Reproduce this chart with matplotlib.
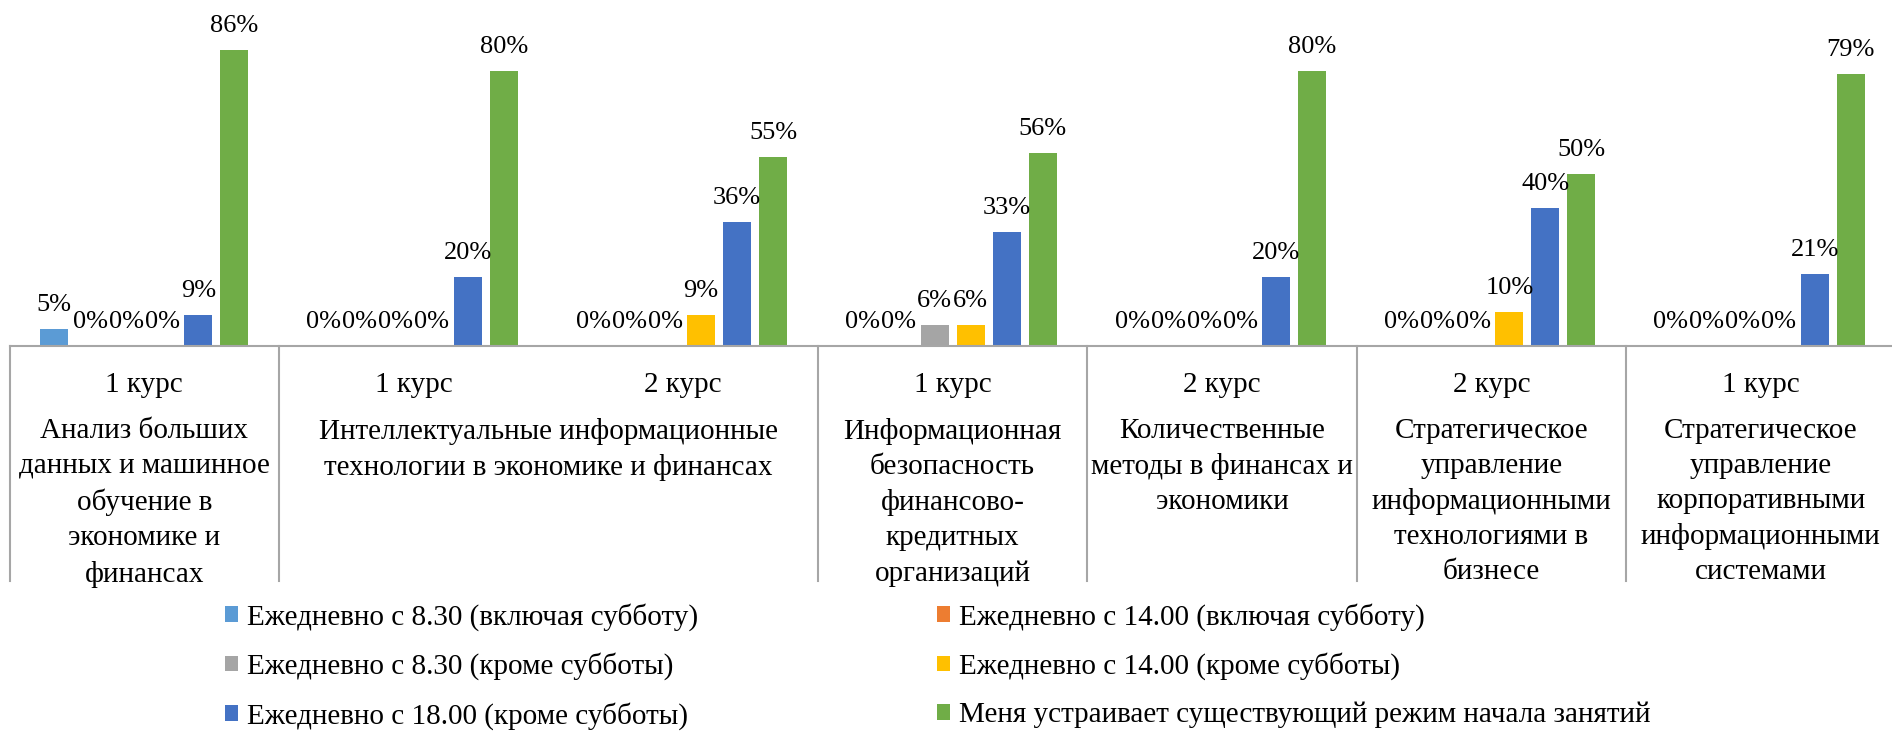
import numpy as np
import matplotlib
matplotlib.use('Agg')
import matplotlib.pyplot as plt
from matplotlib.patches import Patch

# categories: course + program
courses = ['1 курс', '1 курс', '2 курс', '1 курс', '2 курс', '2 курс', '1 курс']
programs = [
    'Анализ больших\nданных и машинное\nобучение в\nэкономике и\nфинансах',
    'Интеллектуальные информационные\nтехнологии в экономике и финансах',
    'Информационная\nбезопасность\nфинансово-\nкредитных\nорганизаций',
    'Количественные\nметоды в финансах и\nэкономики',
    'Стратегическое\nуправление\nинформационными\nтехнологиями в\nбизнесе',
    'Стратегическое\nуправление\nкорпоративными\nинформационными\nсистемами',
]
# how many course groups each program spans
program_span = [1, 2, 1, 1, 1, 1]

series_names = [
    'Ежедневно с 8.30 (включая субботу)',
    'Ежедневно с 14.00 (включая субботу)',
    'Ежедневно с 8.30 (кроме субботы)',
    'Ежедневно с 14.00 (кроме субботы)',
    'Ежедневно с 18.00 (кроме субботы)',
    'Меня устраивает существующий режим начала занятий',
]
s_830_sat = [5, 0, 0, 0, 0, 0, 0]
s_1400_sat = [0, 0, 0, 0, 0, 0, 0]
s_830 = [0, 0, 0, 6, 0, 0, 0]
s_1400 = [0, 0, 9, 6, 0, 10, 0]
s_1800 = [9, 20, 36, 33, 20, 40, 21]
s_current = [86, 80, 55, 56, 80, 50, 79]
values = [s_830_sat, s_1400_sat, s_830, s_1400, s_1800, s_current]

colors = ['#5B9BD5', '#ED7D31', '#A5A5A5', '#FFC000', '#4472C4', '#70AD47']

plt.rcParams['font.family'] = ['Liberation Serif', 'DejaVu Serif']
fs_num = 19   # data labels
fs_txt = 21   # category and legend text

fig = plt.figure(figsize=(18.92, 7.33), dpi=100)
W, H = 1892, 733
ax = fig.add_axes([9.6 / W, (H - 346) / H, 1886 / W, 344 / H])

x = np.arange(len(courses))
step = 0.1336
width = 0.104
for j, (vals, c) in enumerate(zip(values, colors)):
    pos = x + (j - 2.5) * step
    ax.bar(pos, [v / 100 for v in vals], width, color=c, zorder=2)
    for px, v in zip(pos, vals):
        ax.annotate(f'{v}%', (px, v / 100), xytext=(0, 13), textcoords='offset points',
                    ha='center', va='baseline', fontsize=fs_num, color='#000000')

ax.set_xlim(-0.5, len(courses) - 0.5)
ax.set_ylim(0, 1.0)
ax.set_yticks([])
ax.set_xticks([])
for s in ['top', 'right', 'left']:
    ax.spines[s].set_visible(False)
ax.spines['bottom'].set_color('#A6A6A6')
ax.spines['bottom'].set_linewidth(1.5)

# multi-level category axis
tr = ax.get_xaxis_transform()
y_bottom = -(581 - 346) / 344
for i, c in enumerate(courses):
    ax.text(i, -(385 - 346) / 344, c, transform=tr, ha='center', va='center', fontsize=fs_txt)

edges = [-0.5]
start = 0
for p, span in zip(programs, program_span):
    center = start + (span - 1) / 2
    ax.text(center, -(418 - 346) / 344, p, transform=tr, ha='center', va='top',
            fontsize=fs_txt, linespacing=1.45)
    start += span
    edges.append(start - 0.5)
for e in edges:
    ax.plot([e, e], [0, y_bottom], transform=tr, color='#A6A6A6', lw=1.5, clip_on=False)

# legend, row-wise order in two columns
order = [0, 2, 4, 1, 3, 5]
handles = [Patch(facecolor=colors[k], label=series_names[k]) for k in order]
fig.legend(handles=handles, loc='upper left', bbox_to_anchor=(225 / W, 1 - 603 / H),
           ncol=2, frameon=False, fontsize=fs_txt, handlelength=0.45, handleheight=0.45,
           handletextpad=0.3, labelspacing=0.74, columnspacing=8.2,
           borderpad=0, borderaxespad=0)

fig.savefig('out.png', dpi=100)
